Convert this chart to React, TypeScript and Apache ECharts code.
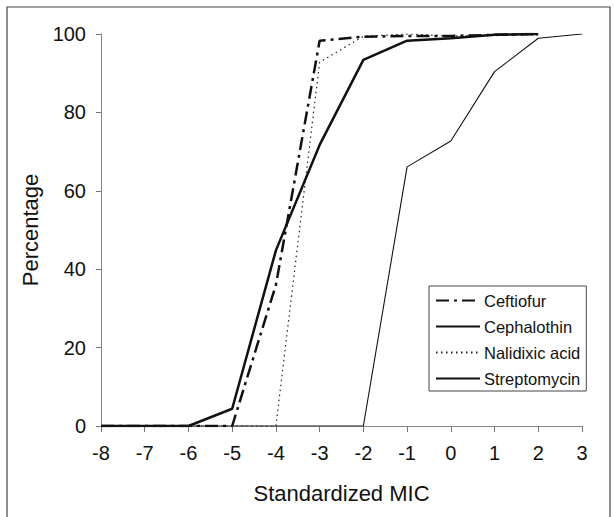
import React, { useEffect, useRef } from "react";
import * as echarts from "echarts";

const xValues = [-8, -7, -6, -5, -4, -3, -2, -1, 0, 1, 2, 3];
const ceftiofur = [0, 0, 0, 0, 36, 98.3, 99.3, 99.5, 99.5, 99.8, 100, null];
const cephalothin = [0, 0, 0, 4.4, 44.8, 71.7, 93.4, 98.3, 98.9, 99.8, 100, null];
const nalidixic = [0, 0, 0, 0, 0, 92.8, 99.4, 100, 99.5, 99.6, 99.8, null];
const streptomycin = [0, 0, 0, 0, 0, 0, 0, 66.1, 72.7, 90.4, 98.9, 100];
const yTicks = { min: 0, max: 100, interval: 20 };
const xTicks = { min: -8, max: 3, interval: 1 };

const pairs = (ys: (number | null)[]) =>
  xValues.map((x, i) => [x, ys[i]]).filter((p) => p[1] !== null);

export default function App() {
  const ref = useRef<HTMLDivElement>(null);
  useEffect(() => {
    const chart = echarts.init(ref.current!, null, { renderer: "svg" });
    const font = "Liberation Sans, Arial, sans-serif";
    chart.setOption({
      animation: false,
      backgroundColor: "#ffffff",
      textStyle: { fontFamily: font },
      grid: { left: 101, right: 32, top: 34, bottom: 91 },
      graphic: [
        {
          type: "rect",
          shape: { x: 7, y: 7, width: 603, height: 540 },
          style: { fill: "none", stroke: "#444", lineWidth: 1.2 },
          silent: true,
        },
      ],
      legend: {
        orient: "vertical",
        left: 429,
        top: 286,
        padding: [6, 6, 4, 6],
        itemGap: 9,
        itemWidth: 44,
        itemHeight: 16,
        borderColor: "#444",
        borderWidth: 1,
        backgroundColor: "#fff",
        itemStyle: { opacity: 0 },
        textStyle: { fontSize: 16.5, color: "#111", fontFamily: font, padding: [0, 0, 0, -1] },
        data: ["Ceftiofur", "Cephalothin", "Nalidixic acid", "Streptomycin"],
      },
      xAxis: {
        type: "value",
        min: xTicks.min,
        max: xTicks.max,
        interval: xTicks.interval,
        name: "Standardized MIC",
        nameLocation: "middle",
        nameGap: 56,
        nameTextStyle: { fontSize: 22, color: "#111", fontFamily: font },
        axisLine: { onZero: false, lineStyle: { color: "#888", width: 1 } },
        axisTick: { show: true, length: 6, lineStyle: { color: "#777" } },
        axisLabel: { fontSize: 20, color: "#111", margin: 17, fontFamily: font },
        splitLine: { show: false },
      },
      yAxis: {
        type: "value",
        min: yTicks.min,
        max: yTicks.max,
        interval: yTicks.interval,
        name: "Percentage",
        nameLocation: "middle",
        nameGap: 55,
        nameTextStyle: { fontSize: 22, color: "#111", fontFamily: font },
        axisLine: { show: true, onZero: false, lineStyle: { color: "#888", width: 1 } },
        axisTick: { show: true, length: 5, lineStyle: { color: "#777" } },
        axisLabel: { fontSize: 20, color: "#111", margin: 15, fontFamily: font },
        splitLine: { show: false },
      },
      series: [
        {
          name: "Ceftiofur",
          type: "line",
          data: pairs(ceftiofur),
          symbol: "none",
          z: 4,
          lineStyle: { color: "#111", width: 2.5, type: [13, 5, 3, 5] },
          itemStyle: { color: "#111" },
        },
        {
          name: "Cephalothin",
          type: "line",
          data: pairs(cephalothin),
          symbol: "none",
          z: 3,
          lineStyle: { color: "#111", width: 2.5, type: "solid" },
          itemStyle: { color: "#111" },
        },
        {
          name: "Nalidixic acid",
          type: "line",
          data: pairs(nalidixic),
          symbol: "none",
          z: 2,
          lineStyle: { color: "#222", width: 1.2, type: [1.5, 3.5] },
          itemStyle: { color: "#222" },
        },
        {
          name: "Streptomycin",
          type: "line",
          data: pairs(streptomycin),
          symbol: "none",
          z: 1,
          lineStyle: { color: "#111", width: 1.1, type: "solid" },
          itemStyle: { color: "#111" },
        },
      ],
    });
    return () => chart.dispose();
  }, []);
  return (
    <div
      ref={ref}
      style={{ position: "fixed", left: 0, top: 0, width: 614, height: 517, background: "#fff" }}
    />
  );
}
